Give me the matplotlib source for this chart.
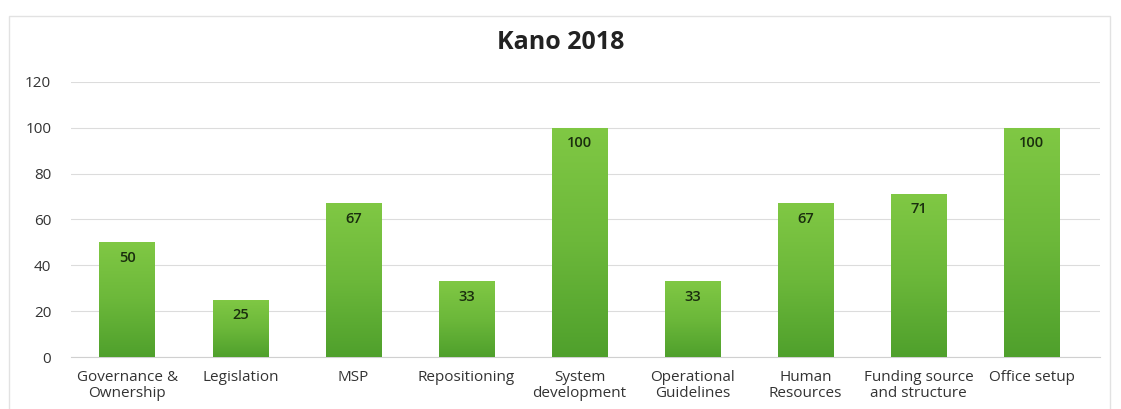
import matplotlib.pyplot as plt
import numpy as np
from matplotlib.colors import LinearSegmentedColormap
from matplotlib.patches import Rectangle

categories = ['Governance &\nOwnership', 'Legislation', 'MSP', 'Repositioning',
              'System\ndevelopment', 'Operational\nGuidelines', 'Human\nResources',
              'Funding source\nand structure', 'Office setup']
values = [50, 25, 67, 33, 100, 33, 67, 71, 100]
yticks = [0, 20, 40, 60, 80, 100, 120]

plt.rcParams['font.family'] = ['Open Sans', 'DejaVu Sans']

fig = plt.figure(figsize=(11.21, 4.09), dpi=100)
ax = fig.add_axes([0.063, 0.127, 0.918, 0.673])

# light frame around the chart (bottom edge runs off the figure)
fig.patches.append(Rectangle((0.008, -0.05), 0.982, 1.01, transform=fig.transFigure,
                             fill=False, edgecolor='#e2e2e2', linewidth=1))

x = np.arange(len(categories))
bars = ax.bar(x, values, width=0.49, color='none', zorder=3)

# vertical gradient, darker at the base
green = LinearSegmentedColormap.from_list('green', ['#4fa02c', '#6cb83a', '#80c844'])
grad = np.linspace(0, 1, 256).reshape(-1, 1)
for b, v in zip(bars, values):
    x0 = b.get_x()
    im = ax.imshow(grad, cmap=green, aspect='auto', origin='lower',
                   extent=[x0, x0 + b.get_width(), 0, v], zorder=3)
    im.set_clip_path(b)
    ax.annotate(str(v), (b.get_x() + b.get_width() / 2, v), xytext=(0, -11),
                textcoords='offset points', ha='center', va='center',
                fontsize=10.5, fontweight='semibold', color='#1a2e0e')

ax.set_xlim(-0.5, len(categories) - 0.4)
ax.set_ylim(0, 120)
ax.set_yticks(yticks)
ax.set_xticks(x)
ax.set_xticklabels(categories, fontsize=11, color='#333333', linespacing=1.1)
ax.tick_params(axis='y', labelsize=11, labelcolor='#333333', length=0, pad=14)
ax.tick_params(axis='x', length=0, pad=9)
ax.grid(axis='y', color='#dcdcdc', linewidth=0.8, zorder=0)
for s in ['top', 'right', 'left']:
    ax.spines[s].set_visible(False)
ax.spines['bottom'].set_color('#d0d0d0')

fig.text(0.5, 0.897, 'Kano 2018', ha='center', va='center', fontsize=18,
         fontweight='bold', color='#222222')

fig.savefig('out.png', dpi=100)
